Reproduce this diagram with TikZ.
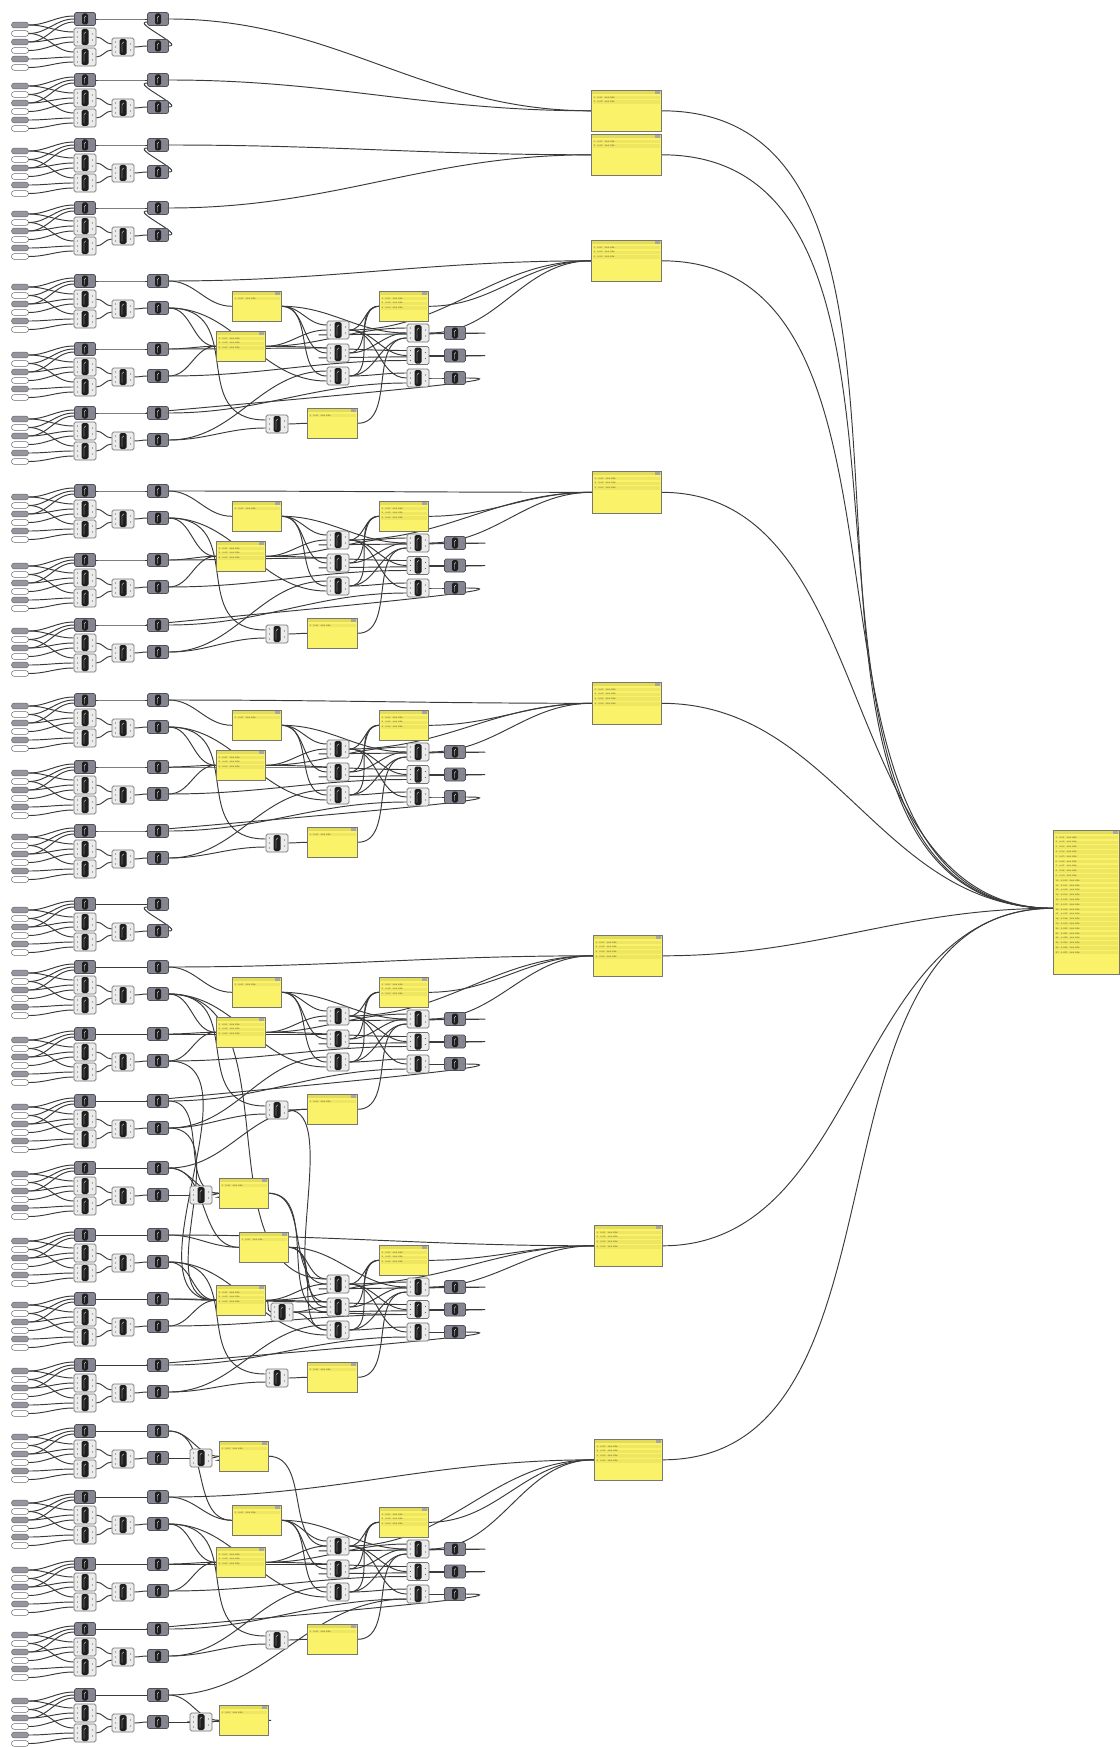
\documentclass[tikz,border=0pt]{standalone}
\usetikzlibrary{calc}
\definecolor{wirec}{RGB}{58,58,58}
\definecolor{compgray}{RGB}{134,134,146}
\definecolor{compedge}{RGB}{80,80,88}
\definecolor{lightfill}{RGB}{236,236,236}
\definecolor{pillgray}{RGB}{150,150,160}
\definecolor{paneyellow}{RGB}{250,242,104}
\definecolor{paneedge}{RGB}{120,120,110}
\definecolor{headyellow}{RGB}{226,219,92}
\definecolor{rowyellow}{RGB}{238,230,96}
\pgfdeclarelayer{wires}
\pgfsetlayers{wires,main}

\tikzset{
  wire/.style={draw=wirec, line width=0.95pt},
  pill/.style={draw=black!60, fill=white, rounded corners=2.6pt, minimum width=17pt,
    minimum height=5.6pt, inner sep=0pt, line width=0.5pt},
  pilldk/.style={pill, fill=pillgray},
  darkc/.style={draw=compedge, fill=compgray, rounded corners=1.6pt, minimum width=21pt,
    minimum height=13pt, inner sep=0pt, line width=0.6pt,
    path picture={
      \fill[black!88] ([xshift=-3pt,yshift=-5.5pt]path picture bounding box.center)
        rectangle ([xshift=3pt,yshift=5.5pt]path picture bounding box.center);
      \draw[white, line width=0.35pt]
        ([xshift=-0.8pt,yshift=-3.5pt]path picture bounding box.center) --
        ([xshift=-0.8pt,yshift=3pt]path picture bounding box.center) --
        ([xshift=0.9pt,yshift=3pt]path picture bounding box.center);
      \fill[black!55] ([xshift=-8.5pt]path picture bounding box.center) circle (0.7pt)
        ([xshift=8.5pt]path picture bounding box.center) circle (0.7pt);
    }},
  lightc/.style={draw=black!55, fill=lightfill, rounded corners=1.6pt, minimum width=22pt,
    minimum height=18pt, inner sep=0pt, line width=0.6pt,
    path picture={
      \fill[black!88] ([xshift=-3.5pt,yshift=-8pt]path picture bounding box.center)
        rectangle ([xshift=3.5pt,yshift=8pt]path picture bounding box.center);
      \draw[white, line width=0.35pt]
        ([xshift=-1pt,yshift=-5.5pt]path picture bounding box.center) --
        ([xshift=-1pt,yshift=5pt]path picture bounding box.center) --
        ([xshift=1pt,yshift=5pt]path picture bounding box.center);
      \foreach \yy in {-5,0,5}
        \fill[black!60] ([xshift=-7.5pt,yshift=\yy pt]path picture bounding box.center) circle (0.6pt);
      \foreach \yy in {-3,3}
        \fill[black!60] ([xshift=7.5pt,yshift=\yy pt]path picture bounding box.center) circle (0.6pt);
    }},
  panelbox/.style={draw=paneedge, fill=paneyellow, inner sep=0pt, anchor=north west, line width=0.6pt},
  rowtext/.style={font=\fontsize{2.2pt}{2.6pt}\selectfont, inner sep=0pt, anchor=west, text=black!80},
}

% forward wire between two points
\newcommand\fw[2]{\draw[wire] (#1) to[out=0,in=180] (#2);}
% wire whose target lies to the left of its source
\newcommand\bw[4]{\draw[wire] (#1) .. controls +(#3,0) and +(-#4,0) .. (#2);}

% yellow panel: name, left, top, width, height, number of rows
\newcommand\ypanel[6]{%
  \node[panelbox, minimum width=#4pt, minimum height=#5pt] (#1) at (#2,#3) {};
  \fill[headyellow] ([xshift=0.8pt,yshift=-0.8pt]#1.north west) rectangle ([xshift=-0.8pt,yshift=-4pt]#1.north east);
  \fill[black!35] ([xshift=-7pt,yshift=-1.2pt]#1.north east) rectangle ([xshift=-1.2pt,yshift=-3.6pt]#1.north east);
  \foreach \k in {1,...,#6} {
    \pgfmathsetmacro\ry{-7.4-4.8*(\k-1)}
    \fill[rowyellow] ([xshift=1.5pt,yshift=\ry pt+1.7pt]#1.north west) rectangle ([xshift=-1.5pt,yshift=\ry pt-1.7pt]#1.north east);
    \node[rowtext] (#1-t\k) at ([xshift=2.5pt,yshift=\ry pt]#1.north west) {\k\ \ 0.0\k\ \ 344.628};
  }
}

% input block: index, y of its top row
\newcommand\module[2]{%
  \foreach \k/\dy/\st in {1/6/pilldk,2/14.5/pill,3/23/pilldk,4/31.5/pill,5/40/pilldk,6/48.5/pill}
    \node[\st] (m#1-i\k) at (20,#2+\dy) {};
  \node[darkc] (m#1-g1) at (85,#2) {};
  \node[lightc] (m#1-g2) at (85,#2+18) {};
  \node[lightc] (m#1-g3) at (85,#2+38) {};
  \node[lightc] (m#1-cb) at (123,#2+28) {};
  \node[darkc] (m#1-r1) at (158,#2) {};
  \node[darkc] (m#1-r2) at (158,#2+27) {};
  \begin{pgfonlayer}{wires}
    \fw{m#1-i1.east}{[yshift=3pt]m#1-g1.west}
    \fw{m#1-i2.east}{m#1-g1.west}
    \fw{m#1-i3.east}{[yshift=-3pt]m#1-g1.west}
    \fw{m#1-i1.east}{[yshift=5pt]m#1-g2.west}
    \fw{m#1-i3.east}{m#1-g2.west}
    \fw{m#1-i4.east}{[yshift=-5pt]m#1-g2.west}
    \fw{m#1-i2.east}{[yshift=5pt]m#1-g3.west}
    \fw{m#1-i5.east}{m#1-g3.west}
    \fw{m#1-i6.east}{[yshift=-5pt]m#1-g3.west}
    \fw{m#1-g1.east}{m#1-r1.west}
    \fw{m#1-g2.east}{[yshift=3pt]m#1-cb.west}
    \fw{m#1-g3.east}{[yshift=-3pt]m#1-cb.west}
    \fw{m#1-cb.east}{m#1-r2.west}
  \end{pgfonlayer}
}

% processing group: prefix, top row y, three block indices, result panel, left and y offset of first panel
\newcommand\cluster[8]{%
  \ypanel{#1-p1}{#7}{#2+#8}{49}{30}{1}
  \ypanel{#1-p2}{216}{#2+50}{49}{30}{3}
  \ypanel{#1-p3}{379}{#2+10}{49}{30}{3}
  \ypanel{#1-p4}{307}{#2+127}{50}{30}{1}
  \foreach \k in {1,2,3} {
    \node[lightc] (#1-a\k) at (338,{#2+49+23*(\k-1)}) {};
    \node[lightc] (#1-b\k) at (418,{#2+52+22.5*(\k-1)}) {};
    \node[darkc] (#1-d\k) at (455,{#2+52+22.5*(\k-1)}) {};
  }
  \node[lightc] (#1-s) at (277,#2+143) {};
  \begin{pgfonlayer}{wires}
    \fw{m#3-r1.east}{#6.west}
    \fw{m#3-r1.east}{#1-p1.west}
    \fw{m#3-r2.east}{#1-p2.west}
    \draw[wire] (m#3-r2.east) to[out=0,in=180,looseness=1.4] ([yshift=4pt]#1-s.west);
    \fw{m#3-r2.east}{[yshift=-5pt]#1-a3.west}
    \fw{m#4-r1.east}{#1-p2.west}
    \fw{m#4-r2.east}{#1-p2.west}
    \fw{m#4-r2.east}{[yshift=-5pt]#1-b2.west}
    \fw{m#4-r1.east}{[yshift=5pt]#1-a2.west}
    \fw{m#5-r1.east}{[yshift=-5pt]#1-b3.west}
    \fw{m#5-r2.east}{[yshift=5pt]#1-a3.west}
    \fw{m#5-r2.east}{[yshift=-4pt]#1-s.west}
    \fw{#1-p1.east}{[yshift=5pt]#1-a1.west}
    \fw{#1-p1.east}{#1-a2.west}
    \fw{#1-p1.east}{#1-a3.west}
    \fw{#1-p1.east}{#1-b1.west}
    \fw{#1-p2.east}{#1-a1.west}
    \fw{#1-p2.east}{[yshift=5pt]#1-b1.west}
    \fw{#1-p2.east}{[yshift=5pt]#1-b2.west}
    \fw{#1-a1.east}{#1-p3.west}
    \fw{#1-a2.east}{#1-p3.west}
    \fw{#1-a3.east}{#1-p3.west}
    \fw{#1-a1.east}{#1-b2.west}
    \fw{#1-a1.east}{#1-b3.west}
    \fw{#1-a2.east}{#1-b1.west}
    \fw{#1-a3.east}{[yshift=-5pt]#1-b1.west}
    \fw{#1-a3.east}{[yshift=5pt]#1-b3.west}
    \foreach \k in {1,2,3} {\fw{#1-b\k.east}{#1-d\k.west}}
    \fw{#1-p3.east}{#6.west}
    \fw{#1-a1.east}{#6.west}
    \fw{#1-b1.east}{#6.west}
    \bw{#1-d1.east}{[yshift=-5pt]#1-a1.west}{95}{60}
    \bw{#1-d2.east}{[yshift=-5pt]#1-a2.west}{95}{60}
    \bw{#1-d3.east}{m#5-r1.west}{95}{15}
    \fw{#1-s.east}{#1-p4.west}
    \fw{#1-p4.east}{[yshift=-5pt]#1-b1.west}
  \end{pgfonlayer}
}

% block followed by one more component and a panel: index, y of top row
\newcommand\chain[2]{%
  \node[lightc] (x#1) at (201,#2+27) {};
  \ypanel{P#1}{219}{#2+10}{49}{30}{1}
  \begin{pgfonlayer}{wires}
    \fw{m#1-r2.east}{x#1.west}
    \fw{x#1.east}{P#1.west}
    \fw{m#1-r1.east}{P#1.west}
  \end{pgfonlayer}
}

\begin{document}
\begin{tikzpicture}[x=1pt,y=-1pt]
\useasboundingbox (0,0) rectangle (1119,1747);
\begin{pgfonlayer}{wires}
  \fill[white] (0,0) rectangle (1119,1747);
\end{pgfonlayer}

% input blocks down the left edge
\foreach \i/\Y in {1/19,2/80,3/145,4/208,5/281,6/349,7/413,8/491,9/560,10/625,
  11/700,12/767,13/831,14/904,15/967,16/1034,17/1101,18/1168,19/1235,20/1299,
  21/1365,22/1431,23/1497,24/1564,25/1629,26/1695}
  {\module{\i}{\Y}}

% result panels
\ypanel{O1}{591}{90}{70}{41}{2}
\ypanel{O2}{591}{134}{70}{41}{2}
\ypanel{O3}{591}{240}{70}{41}{3}
\ypanel{O4}{592}{471}{69}{42}{3}
\ypanel{O5}{592}{682}{69}{42}{4}
\ypanel{O6}{593}{935}{69}{41}{4}
\ypanel{O7}{594}{1225}{68}{41}{4}
\ypanel{O8}{594}{1439}{68}{41}{4}
\ypanel{BIG}{1053}{830}{66}{144}{25}

% processing groups
\cluster{A}{281}{5}{6}{7}{O3}{232}{10}
\cluster{B}{491}{8}{9}{10}{O4}{232}{10}
\cluster{C}{700}{11}{12}{13}{O5}{232}{10}
\cluster{D}{967}{15}{16}{17}{O6}{232}{10}
\cluster{E}{1235}{19}{20}{21}{O7}{239}{-3}
\cluster{F}{1497}{23}{24}{25}{O8}{232}{8}

\node[lightc] (E-x) at (282,1312) {};

\chain{18}{1168}
\chain{22}{1431}
\chain{26}{1695}

\begin{pgfonlayer}{wires}
  % top blocks feed the first two panels
  \fw{m1-r1.east}{O1.west}
  \fw{m2-r1.east}{O1.west}
  \fw{m3-r1.east}{O2.west}
  \fw{m4-r1.east}{O2.west}
  \foreach \i in {1,2,3,4,14}
    {\bw{m\i-r2.east}{[yshift=-3pt]m\i-r1.west}{16}{16}}
  % every result panel feeds the collecting panel
  \foreach \o in {O1,O2,O3,O4,O5,O6,O7,O8}
    {\fw{\o.east}{[yshift=-6pt]BIG.west}}
  % links between neighbouring groups
  \fw{m15-r2.east}{[yshift=5pt]E-a1.west}
  \fw{m16-r2.east}{E-p2.west}
  \fw{m17-r2.east}{E-p2.west}
  \draw[wire] (D-s.east) to[out=0,in=180,looseness=0.7] ([yshift=5pt]E-a2.west);
  \fw{m18-r1.east}{D-p4.west}
  \fw{m17-r1.east}{P18.west}
  \fw{P18.east}{E-a1.west}
  \fw{P18.east}{[yshift=-5pt]E-a2.west}
  \bw{P18.east}{[yshift=-4pt]P18.west}{12}{12}
  \fw{m18-r1.east}{E-p1.west}
  \fw{E-p2.east}{E-x.west}
  \fw{E-x.east}{E-a2.west}
  \fw{E-x.east}{E-a3.west}
  \fw{E-x.east}{[yshift=-5pt]E-b2.west}
  \fw{P22.east}{F-a1.west}
  \bw{P22.east}{[yshift=-4pt]P22.west}{12}{12}
  \fw{m22-r1.east}{F-p1.west}
  \fw{m26-r1.east}{[yshift=-5pt]F-b3.west}
  \bw{P26.east}{x26.west}{22}{22}
\end{pgfonlayer}
\end{tikzpicture}
\end{document}
